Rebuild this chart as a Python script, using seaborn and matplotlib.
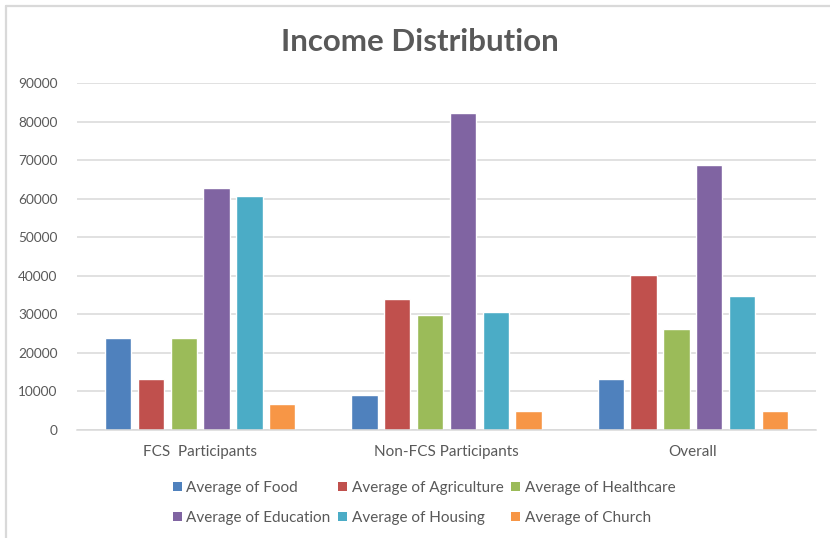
import matplotlib
matplotlib.use("Agg")
import matplotlib.pyplot as plt
import seaborn as sns
import pandas as pd
from matplotlib.lines import Line2D
from matplotlib.patches import Patch

# Category groups on the x axis
groups = ["FCS  Participants", "Non-FCS Participants", "Overall"]

# Average income per spending category, one list per series
series_names = [
    "Average of Food",
    "Average of Agriculture",
    "Average of Healthcare",
    "Average of Education",
    "Average of Housing",
    "Average of Church",
]
food = [23900, 9200, 13300]
agriculture = [13300, 34000, 40300]
healthcare = [23900, 29700, 26300]
education = [62700, 82300, 68800]
housing = [60600, 30700, 34700]
church = [6700, 5000, 5000]

y_ticks = [0, 10000, 20000, 30000, 40000, 50000, 60000, 70000, 80000, 90000]

colors = ["#4F81BD", "#C0504D", "#9BBB59", "#8064A2", "#4BACC6", "#F79646"]
text_color = "#595959"

rows = []
for name, vals in zip(series_names, [food, agriculture, healthcare, education, housing, church]):
    for g, v in zip(groups, vals):
        rows.append({"group": g, "series": name, "value": v})
df = pd.DataFrame(rows)

sns.set_theme(style="white")
plt.rcParams["font.family"] = ["Lato", "DejaVu Sans"]

fig = plt.figure(figsize=(8.30, 5.38), dpi=100)
W, H = 830, 538
ax = fig.add_axes([77 / W, 1 - 430 / H, (816 - 77) / W, (430 - 83) / H])

sns.barplot(
    data=df, x="group", y="value", hue="series",
    hue_order=series_names, order=groups,
    palette=colors, width=0.8, gap=0.2,
    saturation=1, errorbar=None, ax=ax, legend=False,
)

ax.set_xlim(-0.5, 2.5)
ax.set_ylim(0, 90000)
ax.set_yticks(y_ticks)
ax.set_yticklabels([str(t) for t in y_ticks])
ax.set_xlabel("")
ax.set_ylabel("")
ax.yaxis.grid(True, color="#D9D9D9", linewidth=1.1)
ax.set_axisbelow(True)
for s in ["left", "right", "top"]:
    ax.spines[s].set_visible(False)
ax.spines["bottom"].set_color("#D9D9D9")
ax.spines["bottom"].set_linewidth(1.1)
ax.tick_params(axis="y", length=0, pad=14, labelsize=9.8, labelcolor=text_color)
ax.tick_params(axis="x", length=0, pad=11, labelsize=11, labelcolor=text_color)

fig.text(0.506, 1 - 42 / H, "Income Distribution", ha="center", va="center",
         fontsize=22.5, fontweight="bold", color=text_color)

# Legend laid out row by row in three columns
order = [0, 3, 1, 4, 2, 5]
handles = [Patch(facecolor=colors[i], edgecolor="none") for i in order]
labels = [series_names[i] for i in order]
fig.legend(handles, labels, loc="center", bbox_to_anchor=(0.511, 1 - 503 / H),
           ncol=3, frameon=False, fontsize=11, labelcolor=text_color,
           handlelength=0.6, handleheight=0.6, handletextpad=0.3,
           columnspacing=0.5, labelspacing=1.05)

# Chart frame edges
fig.add_artist(Line2D([6 / W, 6 / W], [0, 1 - 6 / H], color="#D9D9D9", lw=1.6))
fig.add_artist(Line2D([6 / W, 1], [1 - 6 / H, 1 - 6 / H], color="#D9D9D9", lw=1.6))

fig.savefig("out.png", dpi=100, facecolor="white")
